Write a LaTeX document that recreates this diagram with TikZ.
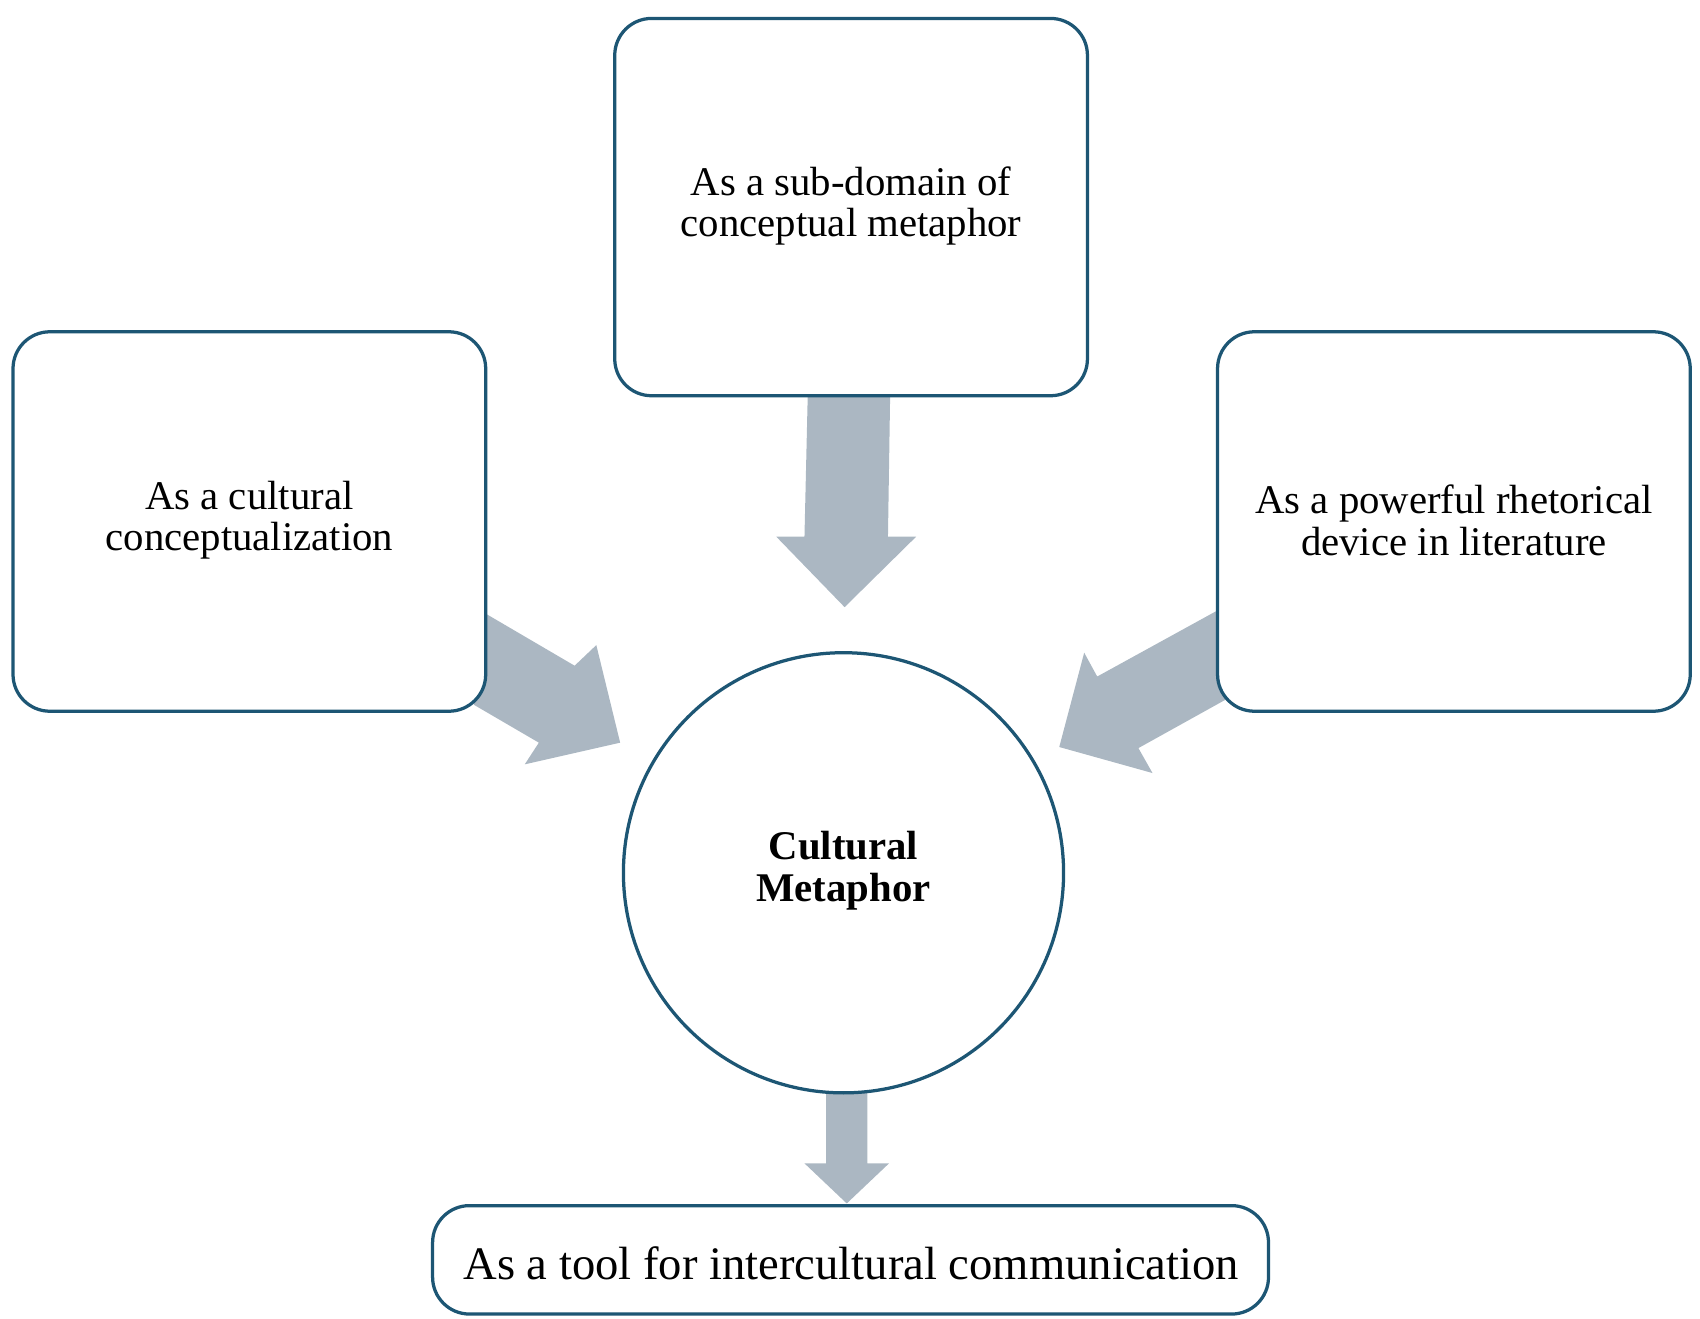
\documentclass[tikz,border=0pt]{standalone}
\usepackage{fontspec}
\setmainfont{Liberation Serif}
\begin{document}
\begin{tikzpicture}[x=0.5pt,y=-0.5pt,
 box/.style={draw=bc,line width=1.5pt,fill=white,rounded corners=17pt},
 arr/.style={fill=ag,draw=none},
 txt/.style={align=center,font=\fontsize{18.8}{19}\selectfont}]
\definecolor{bc}{HTML}{1D5674}
\definecolor{ag}{HTML}{ABB7C2}
\useasboundingbox (0,0) rectangle (1568,1216);
\fill[arr] (745,365) -- (821,365) -- (819,495) -- (845,495) -- (779,560) -- (716,495) -- (742,495) -- cycle;
\fill[arr] (448,566) -- (530,614) -- (550,595) -- (572,685) -- (484,705) -- (497,685) -- (437,650) -- cycle;
\fill[arr] (1123,563) -- (1012,624) -- (1000,602) -- (977,689) -- (1063,713) -- (1050,690) -- (1131,645) -- cycle;
\fill[arr] (762,1003) -- (800,1003) -- (800,1073) -- (820,1073) -- (781,1110) -- (742,1073) -- (762,1073) -- cycle;
\draw[box] (567,17) rectangle (1003,365);
\node[txt] (top) at (785,190) {As a sub-domain of\\conceptual metaphor};
\draw[box] (12,306) rectangle (448,656);
\node[txt] (left) at (230,480) {As a cultural\\conceptualization};
\draw[box] (1123,306) rectangle (1559,656);
\node[txt] (right) at (1341,480) {As a powerful rhetorical\\device in literature};
\draw[box] (399,1112) rectangle (1170,1212);
\node[txt,font=\fontsize{21.5}{23}\selectfont] (bot) at (785,1165) {As a tool for intercultural communication};
\draw[draw=bc,line width=1.5pt,fill=white] (778,805) circle (203);
\node[txt,font=\bfseries\fontsize{18.8}{19}\selectfont] (c) at (778,803) {Cultural\\Metaphor};
\end{tikzpicture}
\end{document}
